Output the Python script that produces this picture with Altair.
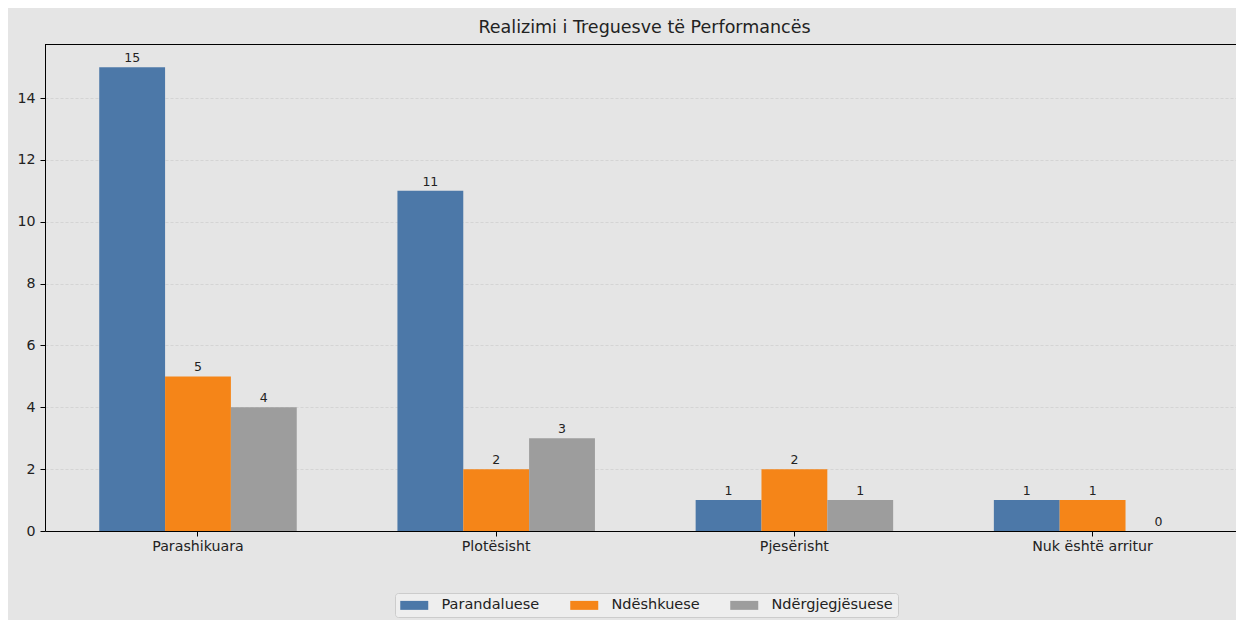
import altair as alt
import pandas as pd

categories = ["Parashikuara", "Plotësisht", "Pjesërisht", "Nuk është arritur"]
series = ["Parandaluese", "Ndëshkuese", "Ndërgjegjësuese"]
parandaluese = [15, 11, 1, 1]
ndeshkuese = [5, 2, 2, 1]
ndergjegjesuese = [4, 3, 1, 0]
colors = ["#4c78a8", "#f58518", "#9d9d9d"]
y_ticks = [0, 2, 4, 6, 8, 10, 12, 14]

rows = []
for name, vals in zip(series, [parandaluese, ndeshkuese, ndergjegjesuese]):
    for c, v in zip(categories, vals):
        rows.append({"Kategoria": c, "Seria": name, "Vlera": v})
df = pd.DataFrame(rows)

W, H = 1191, 487
FONT = "DejaVu Sans"
TXT = "#222222"

x = alt.X(
    "Kategoria:N",
    sort=categories,
    scale=alt.Scale(paddingInner=0.3377, paddingOuter=0.1658, align=0.5485),
    axis=alt.Axis(
        title=None, labelAngle=0, labelFontSize=14.2, labelFont=FONT, labelColor=TXT,
        tickSize=5, tickColor="#000000", domainColor="#000000", domainWidth=1,
        labelPadding=3, grid=False,
    ),
)
xo = alt.XOffset("Seria:N", sort=series, scale=alt.Scale(domain=series, paddingInner=0, paddingOuter=0))
y = alt.Y(
    "Vlera:Q",
    scale=alt.Scale(domain=[0, 15.75], nice=False, zero=True),
    axis=alt.Axis(
        title=None, values=y_ticks, labelFontSize=14.2, labelFont=FONT, labelColor=TXT,
        tickSize=5, tickColor="#000000", domainColor="#000000", domainWidth=1,
        grid=True, gridDash=[3, 2], gridColor="#cfcfcf", gridWidth=0.8, labelPadding=5,
    ),
)
color = alt.Color(
    "Seria:N",
    sort=series,
    scale=alt.Scale(domain=series, range=colors),
    legend=alt.Legend(
        title=None, orient="none", legendX=350, legendY=549, direction="horizontal",
        symbolType="M-2,-0.64H2V0.64H-2Z", symbolSize=196, symbolStrokeWidth=0,
        symbolOffset=7,
        labelFontSize=14.5, labelFont=FONT, labelColor=TXT, labelOffset=20,
        columnPadding=30, padding=5, fillColor="#eeeeee", strokeColor="#cccccc",
        cornerRadius=3,
    ),
)

base = alt.Chart(df)
bars = base.mark_bar().encode(x=x, xOffset=xo, y=y, color=color)
labels = base.mark_text(baseline="bottom", dy=-2, fontSize=12.5, font=FONT, color=TXT).encode(
    x=alt.X("Kategoria:N", sort=categories), xOffset=xo, y="Vlera:Q", text="Vlera:Q"
)
top = alt.Chart(pd.DataFrame({"a": [0]})).mark_rule(color="#000000", strokeWidth=1).encode(
    x=alt.value(0), x2=alt.value(W), y=alt.value(0.5)
)

chart = (
    alt.layer(bars, labels, top)
    .properties(
        width=W, height=H,
        title=alt.TitleParams(
            "Realizimi i Treguesve të Performancës", fontSize=17.5, font=FONT,
            fontWeight="normal", color=TXT, offset=8, dx=4,
        ),
        autosize=alt.AutoSizeParams(type="none"),
        padding={"left": 37, "top": 36, "right": 0, "bottom": 89},
    )
    .configure(background="#e5e5e5")
    .configure_view(fill="#e5e5e5", stroke=None)
)

chart.save("out.html", embed_options={"renderer": "svg", "actions": False})
